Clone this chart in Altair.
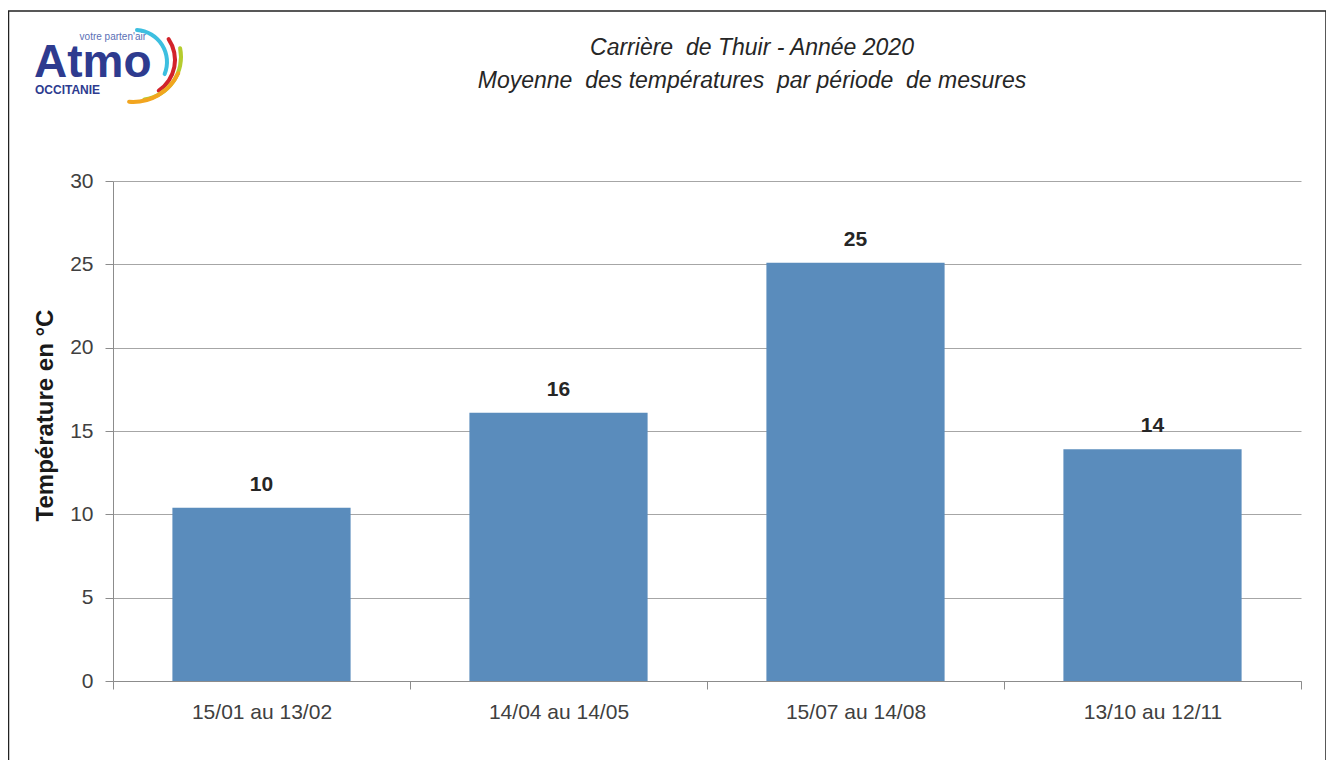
import altair as alt
import pandas as pd

periods = ["15/01 au 13/02", "14/04 au 14/05", "15/07 au 14/08", "13/10 au 12/11"]
temps = [10.4, 16.1, 25.1, 13.9]
y_ticks = [0, 5, 10, 15, 20, 25, 30]
title_line1 = "Carrière\u00a0 de Thuir - Année 2020"
title_line2 = "Moyenne\u00a0 des températures\u00a0 par période\u00a0 de mesures"
y_title = "Température en °C"

df = pd.DataFrame({"periode": periods, "temp": temps})
one = pd.DataFrame({"k": [0]})

FONT = "Liberation Sans"
OX, OY = 113, 181  # plot origin on the page, used for decoration placement

x_enc = alt.X(
    "periode:N",
    sort=periods,
    scale=alt.Scale(paddingInner=0, paddingOuter=0),
    axis=alt.Axis(
        title=None,
        labelAngle=0,
        labelFont=FONT,
        labelFontSize=21,
        labelColor="#404040",
        labelPadding=12,
        tickBand="extent",
        tickSize=8,
        tickColor="#8C8C8C",
        domainColor="#8C8C8C",
        grid=False,
    ),
)
y_enc = alt.Y(
    "temp:Q",
    scale=alt.Scale(domain=[0, 30], nice=False),
    axis=alt.Axis(
        values=y_ticks,
        title=y_title,
        titleFont=FONT,
        titleFontSize=24,
        titleFontWeight="bold",
        titleColor="#1A1A1A",
        titleAngle=-90,
        titleX=-68,
        titleY=234,
        titleAlign="center",
        titleBaseline="middle",
        labelFont=FONT,
        labelFontSize=21,
        labelColor="#404040",
        labelPadding=12,
        tickSize=8,
        tickColor="#8C8C8C",
        domainColor="#8C8C8C",
        gridColor="#A6A6A6",
        gridWidth=1,
    ),
)

base = alt.Chart(df)
bars = base.mark_bar(width=alt.RelativeBandSize(0.6), color="#5A8CBC").encode(x=x_enc, y=y_enc)
labels = base.mark_text(
    font=FONT, fontSize=21, fontWeight="bold", color="#262626", baseline="alphabetic", dy=-17
).encode(x=alt.X("periode:N", sort=periods), y="temp:Q", text=alt.Text("temp:Q", format=".0f"))

# titles
t1 = alt.Chart(one).mark_text(
    x=752 - OX, y=55 - OY, text=title_line1, font=FONT, fontSize=23, fontStyle="italic",
    align="center", baseline="alphabetic"
).encode(color=alt.value("#262626"))
t2 = alt.Chart(one).mark_text(
    x=752 - OX, y=88 - OY, text=title_line2, font=FONT, fontSize=23, fontStyle="italic",
    align="center", baseline="alphabetic"
).encode(color=alt.value("#262626"))

# decorative frame and logo
frame = alt.Chart(one).mark_rect(
    x=8.5 - OX, y=11 - OY, x2=1326 - OX, y2=775 - OY, fill="transparent", strokeWidth=1.5
).encode(stroke=alt.value("#222222"))

logo_main = alt.Chart(one).mark_text(
    x=34 - OX, y=77 - OY, text="Atmo", font=FONT, fontSize=46, fontWeight="bold",
    align="left", baseline="alphabetic"
).encode(color=alt.value("#2E3B8F"))
logo_sub = alt.Chart(one).mark_text(
    x=35 - OX, y=94 - OY, text="OCCITANIE", font=FONT, fontSize=12, fontWeight="bold",
    align="left", baseline="alphabetic"
).encode(color=alt.value("#2E3B8F"))
logo_tag = alt.Chart(one).mark_text(
    x=146 - OX, y=40 - OY, text="votre parten'air", font=FONT, fontSize=10,
    align="right", baseline="alphabetic"
).encode(color=alt.value("#5B6FB5"))

arcs = []
arc_specs = [
    (135, 62, 30, 34, 0.0, 2.02, "#3DBFE0"),
    (138, 60, 35, 39, 0.92, 2.6, "#D2232A"),
    (138, 57, 41, 45, 1.32, 3.04, "#B5CC2E"),
    (133, 52, 48, 52, 1.97, 3.26, "#F2A51F"),
]
for cx, cy, r1, r2, a1, a2, col in arc_specs:
    arcs.append(
        alt.Chart(one).mark_arc(
            x=cx - OX, y=cy - OY, radius=r2, radius2=r1, theta=a1, theta2=a2, cornerRadius=2
        ).encode(color=alt.value(col))
    )

chart = alt.layer(
    frame, bars, labels, t1, t2, logo_main, logo_sub, logo_tag, *arcs
).properties(
    width=1188,
    height=500,
    autosize=alt.AutoSizeParams(type="none"),
    padding={"left": 105, "top": 173, "right": 25, "bottom": 79},
    background="white",
).configure_view(stroke=None)

chart.save("out.html", embed_options={"renderer": "svg", "actions": False})
